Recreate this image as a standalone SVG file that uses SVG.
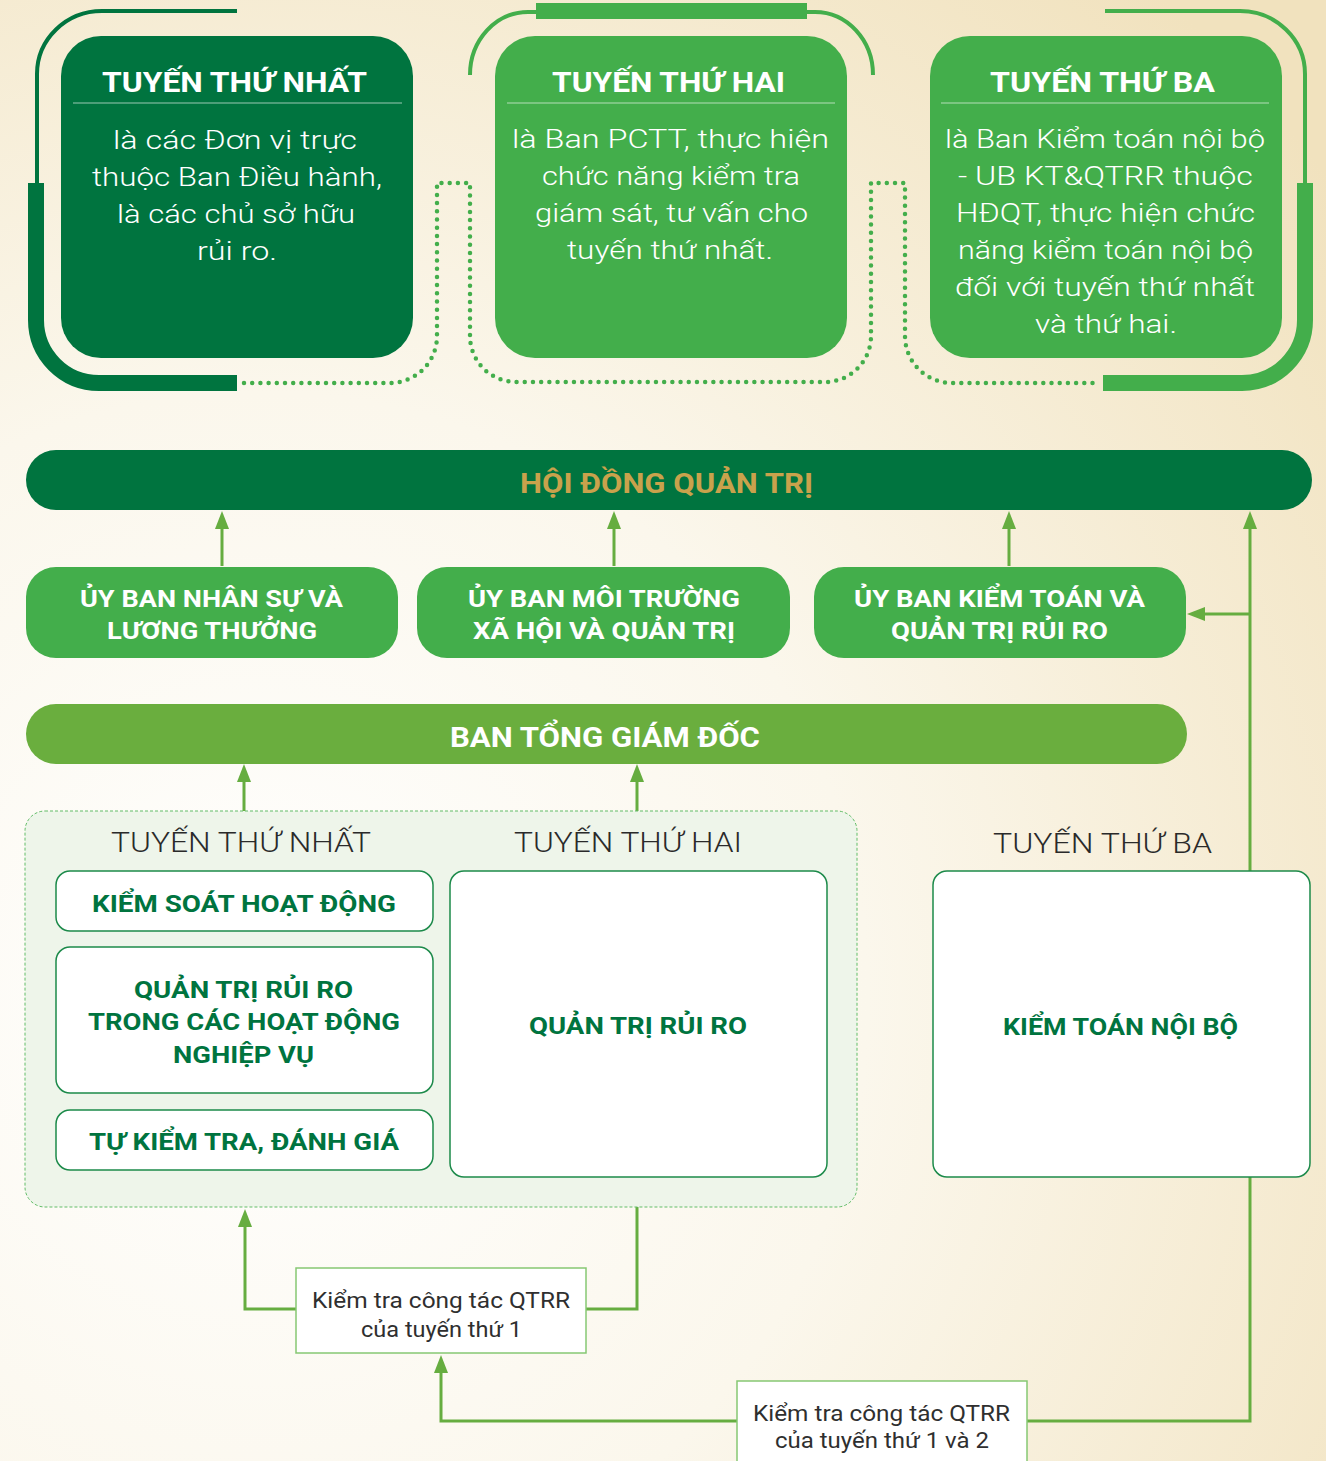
<svg xmlns="http://www.w3.org/2000/svg" width="1326" height="1461" viewBox="0 0 1326 1461">
<defs>
<radialGradient id="bg" cx="260" cy="1000" r="1350" gradientUnits="userSpaceOnUse">
<stop offset="0" stop-color="#FFFFFF"/>
<stop offset="0.45" stop-color="#FBF7EC"/>
<stop offset="1" stop-color="#F1E2BE"/>
</radialGradient>
<marker id="ah" viewBox="0 0 18 14" refX="12" refY="7" markerWidth="18" markerHeight="14" markerUnits="userSpaceOnUse" orient="auto">
<path d="M0,0 L18,7 L0,14 z" fill="#66AD40"/>
</marker>
<style>
text{font-family:Roboto,"Noto Sans","Liberation Sans",sans-serif;}
.ttl{font-size:28px;font-weight:700;fill:#FFFFFF;}
.body{font-size:25.5px;font-weight:300;fill:#FFFFFF;}
.div{stroke:#FFFFFF;stroke-opacity:0.6;stroke-width:1.2;}
.dk{fill:#00743F;}
.lg{fill:#43AE4B;}
.bt{fill:#6AAE3E;}
.cm{font-size:24px;font-weight:700;fill:#FFFFFF;}
.bar{font-size:28px;font-weight:700;}
.lbl{font-size:28px;font-weight:300;fill:#2A2A2A;}
.wb{fill:#FFFFFF;stroke:#1C8A4A;stroke-width:1.5;}
.bx{font-size:24px;font-weight:700;fill:#00743F;}
.note{fill:#FFFFFF;stroke:#86C873;stroke-width:1.5;}
.nt{font-size:22px;font-weight:400;fill:#2F2F2F;}
.con{fill:none;stroke:#66AD40;stroke-width:3;}
</style>
</defs>
<rect x="0" y="0" width="1326" height="1461" fill="url(#bg)"/>

<g id="frames">
<path d="M237,11 H102 A65,63 0 0 0 37,74 V184" fill="none" stroke="#00743F" stroke-width="4"/>
<path d="M36,183 V320 A63,63 0 0 0 99,383 H237" fill="none" stroke="#00743F" stroke-width="16"/>
<path d="M536,11 H807" fill="none" stroke="#43AE4B" stroke-width="16"/>
<path d="M540,12 H528 A58,63 0 0 0 470,75" fill="none" stroke="#43AE4B" stroke-width="4"/>
<path d="M803,12 H815 A58,63 0 0 1 873,75" fill="none" stroke="#43AE4B" stroke-width="4"/>
<path d="M1105,11 H1240 A65,63 0 0 1 1305,74 V184" fill="none" stroke="#43AE4B" stroke-width="4"/>
<path d="M1305,183 V320 A63,63 0 0 1 1242,383 H1103" fill="none" stroke="#43AE4B" stroke-width="16"/>
<path d="M244,383 H390 A47,47 0 0 0 437,336 V183 H470 V336 A46,46 0 0 0 516,382 H825 A46,46 0 0 0 871,336 V183 H905 V336 A47,47 0 0 0 952,383 H1100" fill="none" stroke="#43AE4B" stroke-width="4.5" stroke-linecap="round" stroke-dasharray="0 8.2"/>
</g>

<g id="connectors">
<path class="con" d="M222,566 V517" marker-end="url(#ah)"/>
<path class="con" d="M614,566 V517" marker-end="url(#ah)"/>
<path class="con" d="M1009,566 V517" marker-end="url(#ah)"/>
<path class="con" d="M1027,1421 H1250 V517" marker-end="url(#ah)"/>
<path class="con" d="M1250,614 H1193" marker-end="url(#ah)"/>
<path class="con" d="M244,811 V770" marker-end="url(#ah)"/>
<path class="con" d="M637,811 V770" marker-end="url(#ah)"/>
<path class="con" d="M296,1309 H245 V1215" marker-end="url(#ah)"/>
<path class="con" d="M586,1309 H637 V1207"/>
<path class="con" d="M737,1421 H441 V1361" marker-end="url(#ah)"/>
</g>

<g id="card-tuyen-1">
<rect class="dk" x="61" y="36" width="352" height="322" rx="40"/>
<text class="ttl" x="102" y="92" textLength="265" lengthAdjust="spacingAndGlyphs">TUYẾN THỨ NHẤT</text>
<line class="div" x1="73" y1="103" x2="402" y2="103"/>
<text class="body" x="113" y="149" textLength="244" lengthAdjust="spacingAndGlyphs">là các Đơn vị trực</text>
<text class="body" x="92" y="186" textLength="290" lengthAdjust="spacingAndGlyphs">thuộc Ban Điều hành,</text>
<text class="body" x="117" y="223" textLength="238" lengthAdjust="spacingAndGlyphs">là các chủ sở hữu</text>
<text class="body" x="197" y="260" textLength="80" lengthAdjust="spacingAndGlyphs">rủi ro.</text>
</g>

<g id="card-tuyen-2">
<rect class="lg" x="495" y="36" width="352" height="322" rx="40"/>
<text class="ttl" x="552" y="92" textLength="233" lengthAdjust="spacingAndGlyphs">TUYẾN THỨ HAI</text>
<line class="div" x1="507" y1="103" x2="835" y2="103"/>
<text class="body" x="512" y="148" textLength="317" lengthAdjust="spacingAndGlyphs">là Ban PCTT, thực hiện</text>
<text class="body" x="542" y="185" textLength="258" lengthAdjust="spacingAndGlyphs">chức năng kiểm tra</text>
<text class="body" x="535" y="222" textLength="273" lengthAdjust="spacingAndGlyphs">giám sát, tư vấn cho</text>
<text class="body" x="567" y="259" textLength="206" lengthAdjust="spacingAndGlyphs">tuyến thứ nhất.</text>
</g>

<g id="card-tuyen-3">
<rect class="lg" x="930" y="36" width="352" height="322" rx="40"/>
<text class="ttl" x="990" y="92" textLength="225" lengthAdjust="spacingAndGlyphs">TUYẾN THỨ BA</text>
<line class="div" x1="941" y1="103" x2="1269" y2="103"/>
<text class="body" x="945" y="148" textLength="320" lengthAdjust="spacingAndGlyphs">là Ban Kiểm toán nội bộ</text>
<text class="body" x="958" y="185" textLength="295" lengthAdjust="spacingAndGlyphs">- UB KT&amp;QTRR thuộc</text>
<text class="body" x="956" y="222" textLength="299" lengthAdjust="spacingAndGlyphs">HĐQT, thực hiện chức</text>
<text class="body" x="958" y="259" textLength="295" lengthAdjust="spacingAndGlyphs">năng kiểm toán nội bộ</text>
<text class="body" x="955" y="296" textLength="300" lengthAdjust="spacingAndGlyphs">đối với tuyến thứ nhất</text>
<text class="body" x="1035" y="333" textLength="142" lengthAdjust="spacingAndGlyphs">và thứ hai.</text>
</g>

<g id="hdqt">
<rect class="dk" x="26" y="450" width="1286" height="60" rx="30"/>
<text class="bar" x="520" y="493" textLength="293" lengthAdjust="spacingAndGlyphs" fill="#C9A24C">HỘI ĐỒNG QUẢN TRỊ</text>
</g>

<g id="ub-nhan-su">
<rect class="lg" x="26" y="567" width="372" height="91" rx="30"/>
<text class="cm" x="80" y="607" textLength="263" lengthAdjust="spacingAndGlyphs">ỦY BAN NHÂN SỰ VÀ</text>
<text class="cm" x="107" y="639" textLength="210" lengthAdjust="spacingAndGlyphs">LƯƠNG THƯỞNG</text>
</g>

<g id="ub-moi-truong">
<rect class="lg" x="417" y="567" width="373" height="91" rx="30"/>
<text class="cm" x="468" y="607" textLength="272" lengthAdjust="spacingAndGlyphs">ỦY BAN MÔI TRƯỜNG</text>
<text class="cm" x="473" y="639" textLength="262" lengthAdjust="spacingAndGlyphs">XÃ HỘI VÀ QUẢN TRỊ</text>
</g>

<g id="ub-kiem-toan">
<rect class="lg" x="814" y="567" width="372" height="91" rx="30"/>
<text class="cm" x="854" y="607" textLength="291" lengthAdjust="spacingAndGlyphs">ỦY BAN KIỂM TOÁN VÀ</text>
<text class="cm" x="891" y="639" textLength="217" lengthAdjust="spacingAndGlyphs">QUẢN TRỊ RỦI RO</text>
</g>

<g id="btgd">
<rect class="bt" x="26" y="704" width="1161" height="60" rx="30"/>
<text class="bar" x="450" y="747" textLength="310" lengthAdjust="spacingAndGlyphs" fill="#FFFFFF">BAN TỔNG GIÁM ĐỐC</text>
</g>

<g id="container-tuyen-1-2">
<rect x="25" y="811" width="832" height="396" rx="20" fill="#EEF5EA" stroke="#62BD68" stroke-width="1" stroke-dasharray="3 2"/>
<text class="lbl" x="111" y="852" textLength="260" lengthAdjust="spacingAndGlyphs">TUYẾN THỨ NHẤT</text>
<text class="lbl" x="514" y="852" textLength="228" lengthAdjust="spacingAndGlyphs">TUYẾN THỨ HAI</text>
</g>

<g id="kiem-soat-hoat-dong">
<rect class="wb" x="56" y="871" width="377" height="60" rx="14"/>
<text class="bx" x="92" y="912" textLength="304" lengthAdjust="spacingAndGlyphs">KIỂM SOÁT HOẠT ĐỘNG</text>
</g>

<g id="qtrr-nghiep-vu">
<rect class="wb" x="56" y="947" width="377" height="146" rx="14"/>
<text class="bx" x="134" y="998" textLength="219" lengthAdjust="spacingAndGlyphs">QUẢN TRỊ RỦI RO</text>
<text class="bx" x="88" y="1030" textLength="312" lengthAdjust="spacingAndGlyphs">TRONG CÁC HOẠT ĐỘNG</text>
<text class="bx" x="173" y="1063" textLength="141" lengthAdjust="spacingAndGlyphs">NGHIỆP VỤ</text>
</g>

<g id="tu-kiem-tra">
<rect class="wb" x="56" y="1110" width="377" height="60" rx="14"/>
<text class="bx" x="89" y="1150" textLength="310" lengthAdjust="spacingAndGlyphs">TỰ KIỂM TRA, ĐÁNH GIÁ</text>
</g>

<g id="quan-tri-rui-ro">
<rect class="wb" x="450" y="871" width="377" height="306" rx="14"/>
<text class="bx" x="529" y="1034" textLength="218" lengthAdjust="spacingAndGlyphs">QUẢN TRỊ RỦI RO</text>
</g>

<g id="tuyen-3-label">
<text class="lbl" x="993" y="853" textLength="219" lengthAdjust="spacingAndGlyphs">TUYẾN THỨ BA</text>
</g>

<g id="kiem-toan-noi-bo">
<rect class="wb" x="933" y="871" width="377" height="306" rx="14"/>
<text class="bx" x="1003" y="1035" textLength="235" lengthAdjust="spacingAndGlyphs">KIỂM TOÁN NỘI BỘ</text>
</g>

<g id="note-1">
<rect class="note" x="296" y="1268" width="290" height="85"/>
<text class="nt" x="312" y="1308" textLength="258" lengthAdjust="spacingAndGlyphs">Kiểm tra công tác QTRR</text>
<text class="nt" x="361" y="1337" textLength="161" lengthAdjust="spacingAndGlyphs">của tuyến thứ 1</text>
</g>

<g id="note-2">
<rect class="note" x="737" y="1381" width="290" height="100"/>
<text class="nt" x="753" y="1421" textLength="257" lengthAdjust="spacingAndGlyphs">Kiểm tra công tác QTRR</text>
<text class="nt" x="775" y="1448" textLength="214" lengthAdjust="spacingAndGlyphs">của tuyến thứ 1 và 2</text>
</g>
</svg>
